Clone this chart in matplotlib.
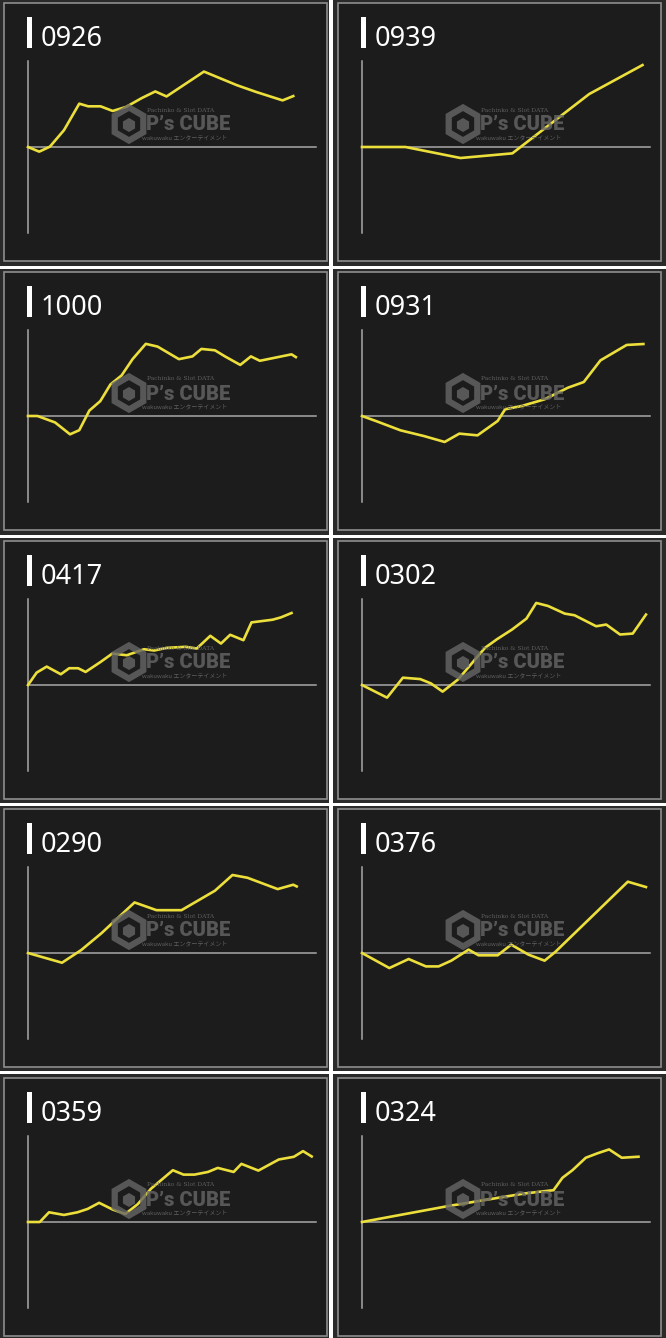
import matplotlib.pyplot as plt
from matplotlib.patches import Rectangle, RegularPolygon

plt.rcParams['font.family'] = ['Noto Sans', 'Noto Sans CJK JP', 'DejaVu Sans']

# %%
# Data: x = 0..100 across the x axis, y = -100..100 over the axis height
titles = ['0926', '0939', '1000', '0931', '0417', '0302', '0290', '0376', '0359', '0324']

x_0926 = [0, 3.9, 7.6, 12.5, 17.8, 20.9, 25.2, 29.4, 34.0, 39.5, 44.2, 48.1, 61.1, 72.5, 79.4, 88.4, 92.1]
y_0926 = [0, -5.4, 0.4, 19.6, 50.4, 47.3, 47.3, 41.9, 46.5, 56.9, 64.6, 58.8, 87.7, 71.9, 63.8, 54.2, 59.2]

x_0939 = [0, 15.1, 34.2, 52.2, 78.9, 97.4]
y_0939 = [0, 0, -12.8, -7.4, 61.6, 95.3]

x_1000 = [0, 3.3, 9.4, 14.6, 17.8, 21.3, 25.1, 28.6, 32.5, 36.3, 40.9, 45.0, 52.4, 57.1,
          60.2, 64.9, 68.4, 73.7, 77.4, 80.5, 91.5, 93.0]
y_1000 = [0, 0, -7.5, -21.3, -16.5, 6.3, 17.3, 36.6, 47.2, 66.1, 83.9, 80.7, 66.1, 69.3,
          78.0, 76.4, 69.3, 59.4, 69.3, 64.2, 71.7, 68.5]

x_0931 = [0, 4.8, 13.4, 21.5, 28.7, 33.8, 40.1, 47.1, 49.7, 55.4, 63.4, 71.5, 77.0, 82.8, 91.9, 97.7]
y_0931 = [0, -5.8, -16.7, -23.3, -30.2, -20.5, -22.5, -5.8, 7.8, 11.6, 19.4, 32.9, 39.5, 64.7, 82.6, 83.7]

x_0417 = [0, 3.0, 6.5, 11.4, 14.3, 17.4, 20.0, 25.2, 29.3, 34.3, 40.3, 43.8, 48.2, 54.8,
          58.6, 63.3, 67.0, 70.2, 74.8, 77.6, 84.9, 87.8, 91.5]
y_0417 = [0, 14.4, 21.4, 12.5, 19.5, 19.5, 15.2, 26.8, 36.6, 34.6, 41.6, 40.1, 43.2, 44.4,
          42.4, 57.2, 48.2, 58.4, 52.1, 72.8, 75.9, 78.6, 83.7]

x_0302 = [0, 8.7, 14.2, 20.2, 23.9, 28.0, 33.4, 42.7, 46.9, 52.1, 57.1, 60.5, 64.6, 70.4,
          73.8, 81.3, 84.8, 89.6, 94.0, 98.6]
y_0302 = [0, -14.7, 8.5, 6.9, 1.9, -7.7, 6.6, 43.2, 53.3, 64.5, 77.2, 95.4, 91.9, 83.0,
          81.1, 68.3, 70.3, 58.7, 59.8, 81.9]

x_0290 = [0, 11.8, 18.5, 25.5, 37.0, 44.6, 53.3, 64.9, 71.0, 76.2, 86.7, 92.1, 93.3]
y_0290 = [0, -11.3, 3.5, 23.0, 58.8, 49.8, 49.8, 72.4, 90.7, 87.5, 74.3, 79.4, 77.4]

x_0376 = [0, 9.5, 16.2, 22.2, 26.6, 31.0, 37.0, 40.5, 47.1, 51.8, 57.8, 63.4, 67.1, 92.3, 98.6]
y_0376 = [0, -17.5, -7.0, -15.6, -15.6, -8.9, 3.9, -2.7, -2.7, 9.7, -1.9, -8.9, 1.2, 82.9, 76.7]

x_0359 = [0, 4.1, 7.3, 12.5, 17.2, 20.7, 24.7, 29.4, 33.8, 38.1, 42.7, 50.3, 54.0, 57.8,
          62.5, 65.9, 71.4, 74.1, 80.0, 87.1, 92.3, 95.5, 98.5]
y_0359 = [0, 0, 11.3, 8.2, 11.3, 15.2, 22.3, 14.5, 9.4, 20.7, 38.7, 60.2, 55.1, 55.1,
          58.2, 62.9, 58.2, 67.6, 59.8, 72.7, 75.8, 82.4, 76.2]

x_0324 = [0, 30.2, 56.3, 66.5, 69.6, 73.1, 77.7, 81.7, 85.8, 90.2, 96.0]
y_0324 = [0, 18.7, 33.1, 37.0, 51.4, 60.3, 74.7, 79.8, 84.4, 74.7, 75.9]

series_x = [x_0926, x_0939, x_1000, x_0931, x_0417, x_0302, x_0290, x_0376, x_0359, x_0324]
series_y = [y_0926, y_0939, y_1000, y_0931, y_0417, y_0302, y_0290, y_0376, y_0359, y_0324]

# %%
# Layout in pixels (origin top-left)
W, H = 666, 1338
cell_x = [(0, 329), (333, 666)]
cell_y = [(0, 266), (269, 535), (538, 803), (806, 1071), (1074, 1338)]
panel_left = [4, 338]
panel_top = [3, 272, 541, 809, 1078]
PW, PH = 323, 258

fig = plt.figure(figsize=(W / 100, H / 100), dpi=100, facecolor='white')

bg = fig.add_axes([0, 0, 1, 1])
bg.set_xlim(0, W)
bg.set_ylim(H, 0)
bg.axis('off')

for i in range(len(titles)):
    r, c = divmod(i, 2)
    x0, x1 = cell_x[c]
    y0, y1 = cell_y[r]
    bg.add_patch(Rectangle((x0, y0), x1 - x0, y1 - y0, facecolor='#2a2a2a', edgecolor='none'))
    bg.add_patch(Rectangle((panel_left[c], panel_top[r]), PW, PH,
                           facecolor='#1c1c1c', edgecolor='#8e8e8e', lw=1.2))

# line charts
for i in range(len(titles)):
    r, c = divmod(i, 2)
    pl, pt = panel_left[c], panel_top[r]
    ax = fig.add_axes([(pl + 24) / W, 1 - (pt + 230) / H, 288 / W, 172 / H])
    ax.set_xlim(0, 100)
    ax.set_ylim(-100, 100)
    ax.axis('off')
    ax.plot([0, 0], [-100, 100], color='#a8a8a8', lw=1.1, clip_on=False)
    ax.plot([0, 100], [0, 0], color='#a8a8a8', lw=1.1, clip_on=False)
    ax.plot(series_x[i], series_y[i], color='#ecdf3c', lw=1.9, clip_on=False)

# titles and watermark on top
top = fig.add_axes([0, 0, 1, 1])
top.set_xlim(0, W)
top.set_ylim(H, 0)
top.axis('off')
top.patch.set_alpha(0)

wm = '#666666'
for i in range(len(titles)):
    r, c = divmod(i, 2)
    pl, pt = panel_left[c], panel_top[r]
    top.add_patch(Rectangle((pl + 23, pt + 14), 4.5, 31, facecolor='white', edgecolor='none'))
    top.text(pl + 37, pt + 43, titles[i], color='white', fontsize=19.5, va='baseline', ha='left')

    # P's CUBE watermark
    cx, cy = pl + 125, pt + 121
    top.add_patch(RegularPolygon((cx, cy), 6, radius=16.5, fill=False, edgecolor=wm,
                                 lw=4.5, alpha=0.8))
    top.add_patch(RegularPolygon((cx, cy + 1), 6, radius=7, facecolor=wm,
                                 edgecolor='none', alpha=0.8))
    top.text(pl + 143, pt + 107, 'Pachinko & Slot DATA', color=wm, fontsize=4.3,
             va='center', ha='left', family=['DejaVu Serif'], alpha=0.9)
    top.text(pl + 142, pt + 122, 'P’s CUBE', color=wm, fontsize=14.5, fontweight='black',
             va='center', ha='left', family=['Roboto', 'DejaVu Sans'], alpha=0.8)
    top.text(pl + 223, pt + 135, 'wakuwaku エンターテイメント', color=wm, fontsize=4.3,
             va='center', ha='right', family=['Noto Sans CJK JP', 'DejaVu Sans'], alpha=0.9)

fig.savefig('out.png', dpi=100, facecolor=fig.get_facecolor())
